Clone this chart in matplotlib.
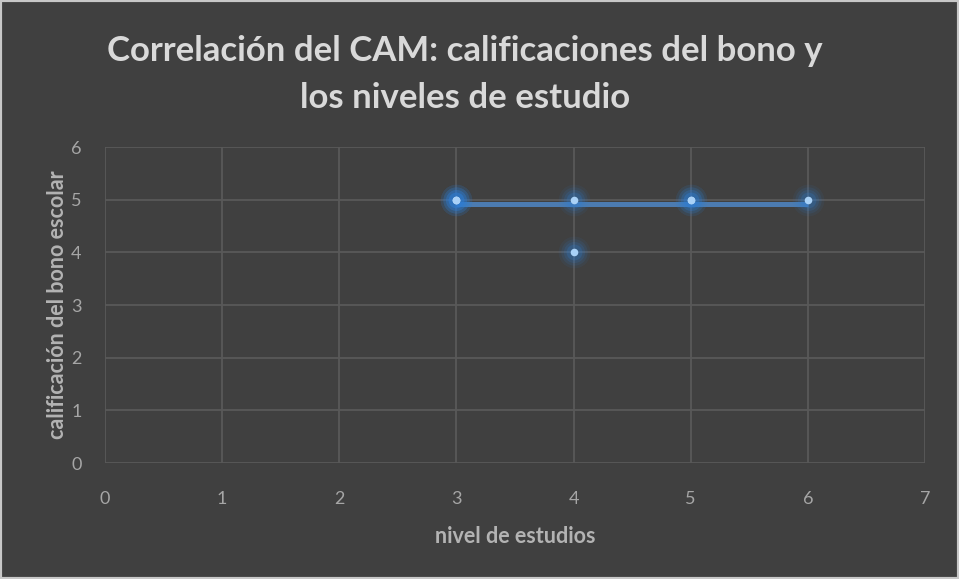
import numpy as np
import matplotlib.pyplot as plt

# data (duplicates make the brighter glow)
nivel = [3, 3, 3, 4, 4, 5, 5, 6]
calificacion = [5, 5, 5, 5, 4, 5, 5, 5]
trend_x = [3, 6]
trend_y = [4.92, 4.92]

xticks = list(range(0, 8))
yticks = list(range(0, 7))

bg = "#404040"
txt = "#a6a6a6"
grid = "#595959"

plt.rcParams["font.family"] = ["Lato", "DejaVu Sans"]

fig = plt.figure(figsize=(9.59, 5.79), dpi=100, facecolor=bg)
ax = fig.add_axes([0.1095, 0.2003, 0.855, 0.5458])
ax.set_facecolor(bg)

ax.plot(trend_x, trend_y, color="#4c7bb0", lw=3.6, solid_capstyle="butt", zorder=3)

# glow around the markers
for s, a in [(520, 0.07), (360, 0.11), (230, 0.15), (130, 0.22)]:
    ax.scatter(nivel, calificacion, s=s, color="#2e7fd6", alpha=a,
               linewidths=0, zorder=4)
ax.scatter(nivel, calificacion, s=30, color="#a9d1f7", linewidths=0, zorder=5)

ax.set_xlim(0, 7)
ax.set_ylim(0, 6)
ax.set_xticks(xticks)
ax.set_yticks(yticks)
ax.grid(True, color=grid, lw=1.3)
ax.set_axisbelow(True)
for sp in ax.spines.values():
    sp.set_visible(False)
ax.tick_params(length=0, colors=txt, labelsize=13)
ax.tick_params(axis="x", pad=20)
ax.tick_params(axis="y", pad=17)

ax.set_xlabel("nivel de estudios", color="#b3b3b3", fontsize=15.5,
              fontweight="bold", labelpad=14)
ax.set_ylabel("calificación del bono escolar", color="#b3b3b3", fontsize=15.5,
              fontweight="bold", labelpad=2)

fig.text(0.485, 0.872, "Correlación del CAM: calificaciones del bono y\nlos niveles de estudio",
         ha="center", va="center", color="#d9d9d9", fontsize=25,
         fontweight="bold", linespacing=1.58)

# thin light frame like the original export
fig.patches.append(plt.Rectangle((0, 0), 1, 1, transform=fig.transFigure,
                                 fill=False, edgecolor="#c8c8c8", lw=3))

fig.savefig("out.png", dpi=100, facecolor=bg)
